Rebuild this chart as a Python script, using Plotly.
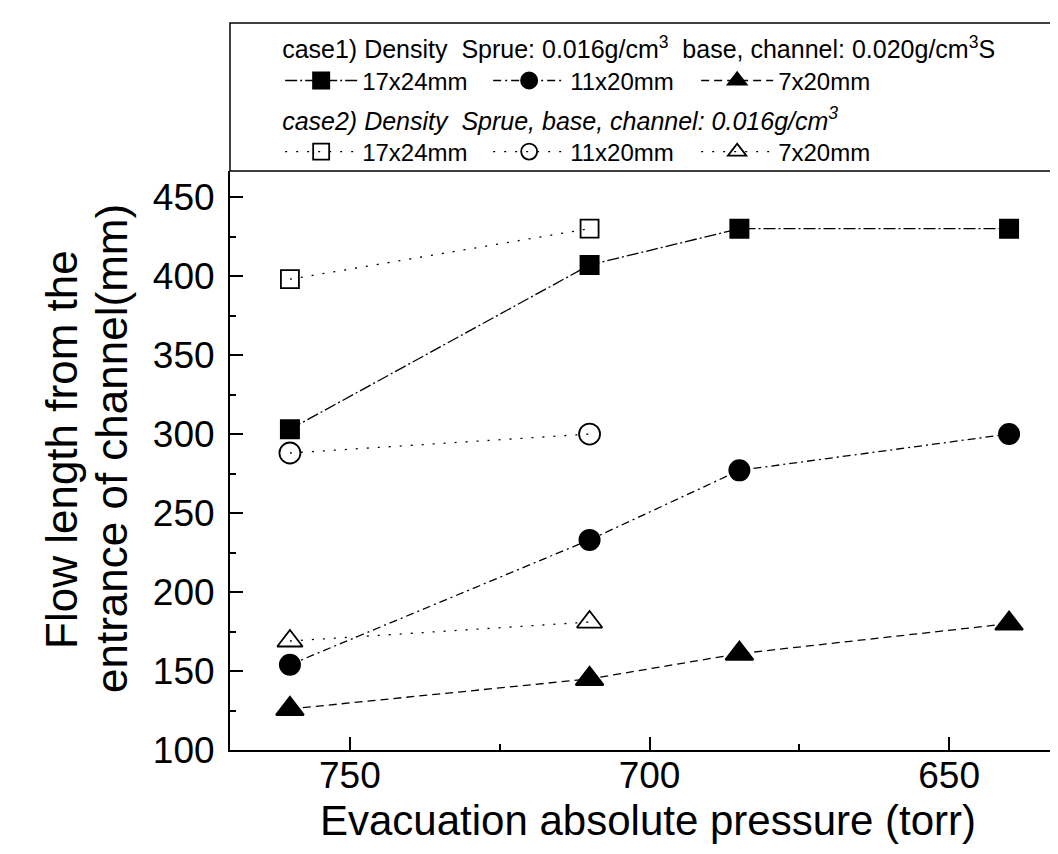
import plotly.graph_objects as go

# ---- data ----
x_case1 = [760, 710, 685, 640]
sq_case1 = [303, 407, 430, 430]      # 17x24mm, case1
ci_case1 = [154, 233, 277, 300]      # 11x20mm, case1
tr_case1 = [126, 145, 161, 180]      # 7x20mm, case1

x_case2 = [760, 710]
sq_case2 = [398, 430]                # 17x24mm, case2
ci_case2 = [288, 300]                # 11x20mm, case2
tr_case2 = [169, 181]                # 7x20mm, case2

y_ticks = [100, 150, 200, 250, 300, 350, 400, 450]
x_ticks = [750, 700, 650]

x_title = "Evacuation absolute pressure (torr)"
y_title_lines = ["Flow length from the", "entrance of channel(mm)"]

FONT = "Liberation Sans, Arial, sans-serif"

fig = go.Figure()

def add(x, y, name, symbol, size, dash, legend, lw=2):
    fig.add_trace(go.Scatter(
        x=x, y=y, name=name, mode="lines+markers", legend=legend,
        line=dict(color="black", width=1.3, dash=dash),
        marker=dict(symbol=symbol, size=size, color="black",
                    line=dict(color="black", width=lw)),
    ))

add(x_case1, sq_case1, "17x24mm", "square", 18, "12px,3px,2px,3px", "legend")
add(x_case1, ci_case1, "11x20mm", "circle", 20, "8px,4px,2px,4px", "legend")
add(x_case1, tr_case1, "7x20mm", "triangle-up", 24, "8px,5px", "legend")
add(x_case2, sq_case2, "17x24mm", "square-open", 18, "2px,9px", "legend2", 1.8)
add(x_case2, ci_case2, "11x20mm", "circle-open", 21, "2px,9px", "legend2", 1.8)
add(x_case2, tr_case2, "7x20mm", "triangle-up-open", 22, "2px,9px", "legend2", 1.8)

axis_common = dict(
    showline=True, linecolor="black", linewidth=2,
    ticks="inside", ticklen=13, tickwidth=2, tickcolor="black",
    showgrid=False, zeroline=False, mirror=False,
    tickfont=dict(family=FONT, size=37, color="black"),
)

fig.update_xaxes(
    range=[770, 630.5], tickvals=x_ticks, ticklabelstandoff=-8,
    minor=dict(ticks="inside", ticklen=6, tickwidth=1.5, tickcolor="black", dtick=25, tick0=0),
    **axis_common,
)
fig.update_yaxes(
    range=[100, 466.5], tickvals=y_ticks, ticklabelstandoff=6,
    minor=dict(ticks="inside", ticklen=6, tickwidth=1.5, tickcolor="black", dtick=25, tick0=0),
    **axis_common,
)

legend_common = dict(
    orientation="h", bgcolor="rgba(0,0,0,0)", borderwidth=0,
    font=dict(family=FONT, size=24, color="black"),
    xanchor="left", yanchor="top", itemwidth=72,
    entrywidth=121, entrywidthmode="pixels",
)

annotations = [
    dict(text=x_title, xref="paper", yref="paper", x=0.5, y=-0.1226,
         xanchor="center", yanchor="middle", showarrow=False,
         font=dict(family=FONT, size=42, color="black")),
    dict(text=y_title_lines[0], xref="paper", yref="paper", x=-0.2010, y=0.5199,
         xanchor="center", yanchor="middle", textangle=-90, showarrow=False,
         font=dict(family=FONT, size=44, color="black")),
    dict(text=y_title_lines[1], xref="paper", yref="paper", x=-0.1411, y=0.5199,
         xanchor="center", yanchor="middle", textangle=-90, showarrow=False,
         font=dict(family=FONT, size=44, color="black")),
]

fig.update_layout(
    width=1058, height=854, autosize=False,
    margin=dict(l=222, r=0, t=163, b=112, autoexpand=False),
    paper_bgcolor="white", plot_bgcolor="white",
    showlegend=True,
    legend=dict(
        x=0.06, y=1.2506,
        title=dict(text="case1) Density  Sprue: 0.016g/cm<sup>3</sup>  base, channel: 0.020g/cm<sup>3</sup>S",
                   side="top", font=dict(family=FONT, size=25, color="black")),
        **legend_common,
    ),
    legend2=dict(
        x=0.06, y=1.1278,
        title=dict(text="<i>case2) Density  Sprue, base, channel: 0.016g/cm<sup>3</sup></i>",
                   side="top", font=dict(family=FONT, size=25, color="black")),
        **legend_common,
    ),
    annotations=annotations,
    shapes=[dict(type="rect", xref="paper", yref="paper",
                 x0=0, x1=0.9964, y0=1.0, y1=1.2556,
                 line=dict(color="black", width=1.5), fillcolor="rgba(0,0,0,0)", layer="above")],
)

fig.write_html("out.html")
